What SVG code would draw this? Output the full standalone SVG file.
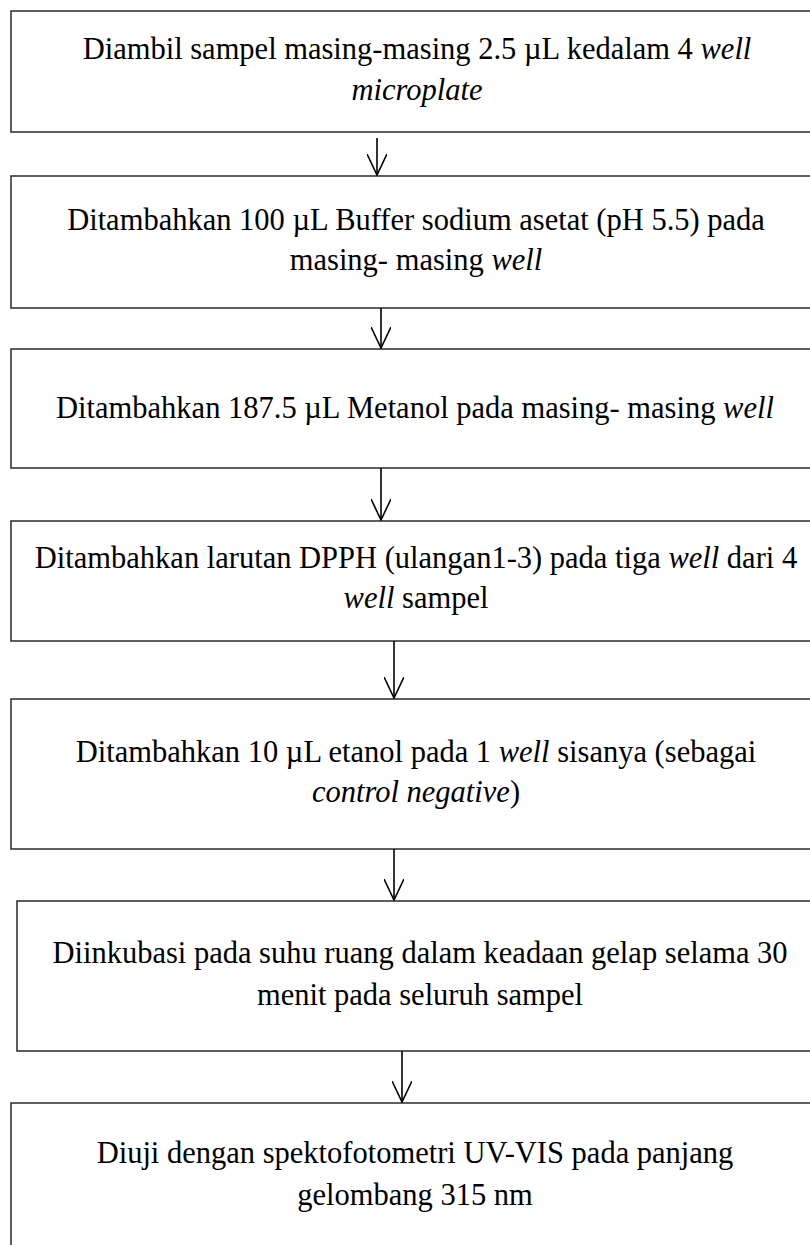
<svg xmlns="http://www.w3.org/2000/svg" width="810" height="1245" viewBox="0 0 810 1245">
<style>
.box{fill:#fff;stroke:#2a2a2a;stroke-width:1.5}
.t{font-family:"Liberation Serif","Times New Roman",serif;font-size:30.5px;fill:#000;text-anchor:middle}
.i{font-style:italic}
.c{stroke:#000;stroke-width:1.6;fill:none}
</style>
<defs>
<marker id="ah" viewBox="0 0 22 20" refX="21" refY="10" markerWidth="22" markerHeight="20" markerUnits="userSpaceOnUse" orient="auto">
<path d="M0,0 L21,10 L0,20" fill="none" stroke="#000" stroke-width="1.6"/>
</marker>
</defs>
<rect width="810" height="1245" fill="#fff"/>
<g id="n1"><rect class="box" x="11" y="11" width="830" height="121"/>
<text class="t" x="417" y="59">Diambil sampel masing-masing 2.5 µL kedalam 4 <tspan class="i">well</tspan></text>
<text class="t i" x="417" y="100">microplate</text></g>
<g id="n2"><rect class="box" x="11" y="176" width="830" height="132"/>
<text class="t" x="416" y="230">Ditambahkan 100 µL Buffer sodium asetat (pH 5.5) pada</text>
<text class="t" x="416" y="270">masing- masing <tspan class="i">well</tspan></text></g>
<g id="n3"><rect class="box" x="11" y="349" width="830" height="119"/>
<text class="t" x="415" y="418">Ditambahkan 187.5 µL Metanol pada masing- masing <tspan class="i">well</tspan></text></g>
<g id="n4"><rect class="box" x="11" y="521" width="830" height="120"/>
<text class="t" x="416" y="568">Ditambahkan larutan DPPH (ulangan1-3) pada tiga <tspan class="i">well</tspan> dari 4</text>
<text class="t" x="416" y="608"><tspan class="i">well</tspan> sampel</text></g>
<g id="n5"><rect class="box" x="11" y="699" width="830" height="150"/>
<text class="t" x="416" y="762">Ditambahkan 10 µL etanol pada 1 <tspan class="i">well</tspan> sisanya (sebagai</text>
<text class="t" x="416" y="802"><tspan class="i">control negative</tspan>)</text></g>
<g id="n6"><rect class="box" x="17" y="901" width="830" height="150"/>
<text class="t" x="420" y="963">Diinkubasi pada suhu ruang dalam keadaan gelap selama 30</text>
<text class="t" x="420" y="1005">menit pada seluruh sampel</text></g>
<g id="n7"><rect class="box" x="11" y="1103" width="830" height="160"/>
<text class="t" x="415" y="1163">Diuji dengan spektofotometri UV-VIS pada panjang</text>
<text class="t" x="415" y="1205">gelombang 315 nm</text></g>
<g id="connectors">
<line class="c" x1="377" y1="138" x2="377" y2="175" marker-end="url(#ah)"/>
<line class="c" x1="381" y1="308" x2="381" y2="348" marker-end="url(#ah)"/>
<line class="c" x1="381" y1="468" x2="381" y2="520" marker-end="url(#ah)"/>
<line class="c" x1="394" y1="641" x2="394" y2="698" marker-end="url(#ah)"/>
<line class="c" x1="394" y1="849" x2="394" y2="900" marker-end="url(#ah)"/>
<line class="c" x1="402" y1="1051" x2="402" y2="1102" marker-end="url(#ah)"/>
</g>
</svg>
